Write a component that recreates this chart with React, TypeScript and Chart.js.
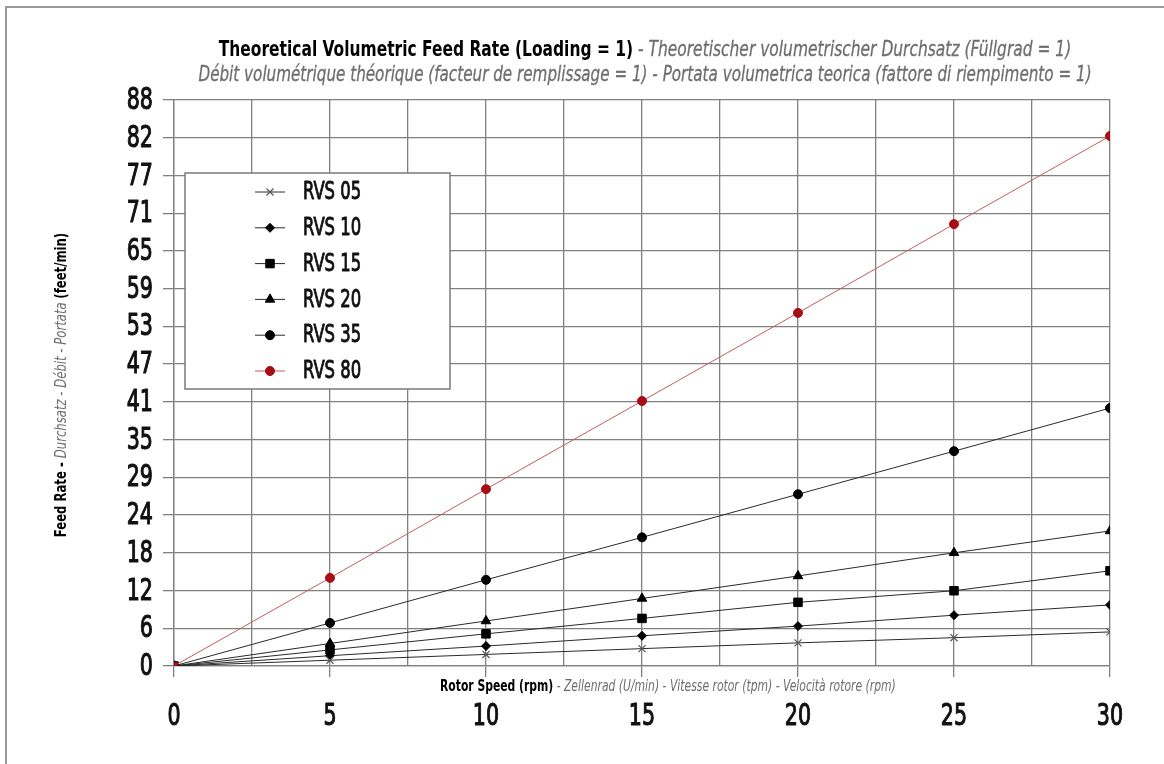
import React, { useEffect, useRef } from 'react';
import { Chart, registerables } from 'chart.js';
import { drawPoint } from 'chart.js/helpers';

Chart.register(...registerables);

const FONT = '"DejaVu Sans Condensed", "Liberation Sans Narrow", "DejaVu Sans", sans-serif';

// ---- data ----
const rotorSpeed = [0, 5, 10, 15, 20, 25, 30];
const rvs05 = [0, 0.9, 1.8, 2.7, 3.6, 4.4, 5.3];
const rvs10 = [0, 1.6, 3.1, 4.7, 6.2, 7.9, 9.5];
const rvs15 = [0, 2.5, 5.0, 7.4, 9.9, 11.7, 14.8];
const rvs20 = [0, 3.5, 7.0, 10.5, 14.0, 17.6, 21.0];
const rvs35 = [0, 6.7, 13.4, 20.0, 26.7, 33.4, 40.1];
const rvs80 = [0, 13.7, 27.5, 41.2, 54.9, 68.7, 82.4];
const seriesNames = ['RVS 05', 'RVS 10', 'RVS 15', 'RVS 20', 'RVS 35', 'RVS 80'];

const yTickLabels = ['0', '6', '12', '18', '24', '29', '35', '41', '47', '53', '59', '65', '71', '77', '82', '88'];
const yMax = 88;
const xMajorTicks = [0, 5, 10, 15, 20, 25, 30];
const xTickLabels = ['0', '5', '10', '15', '20', '25', '30'];
const xGridStep = 2.5;

const titleMain = 'Theoretical Volumetric Feed Rate (Loading = 1)';
const titleDe = ' - Theoretischer volumetrischer Durchsatz (Füllgrad = 1)';
const titleLine2 = 'Débit volumétrique théorique (facteur de remplissage = 1) - Portata volumetrica teorica (fattore di riempimento = 1)';
const xTitleMain = 'Rotor Speed (rpm)';
const xTitleRest = ' - Zellenrad (U/min) - Vitesse rotor (tpm) - Velocità rotore (rpm)';
const yTitleMain = 'Feed Rate - ';
const yTitleRest = 'Durchsatz - Débit - Portata ';
const yTitleUnit = '(feet/min)';

type Seg = { text: string; font: string; color: string; stroke?: number };

function drawSegments(
  ctx: CanvasRenderingContext2D,
  segs: Seg[],
  x: number,
  y: number,
  align: 'center' | 'left' | 'right',
  sx: number,
) {
  let total = 0;
  const widths = segs.map((s) => {
    ctx.font = s.font;
    const w = ctx.measureText(s.text).width;
    total += w;
    return w;
  });
  const scaled = total * sx;
  const start = align === 'center' ? x - scaled / 2 : align === 'right' ? x - scaled : x;
  ctx.save();
  ctx.translate(start, y);
  ctx.scale(sx, 1);
  ctx.textBaseline = 'middle';
  ctx.textAlign = 'left';
  ctx.lineJoin = 'round';
  let cx = 0;
  segs.forEach((s, i) => {
    ctx.font = s.font;
    ctx.fillStyle = s.color;
    ctx.fillText(s.text, cx, 0);
    if (s.stroke) {
      ctx.strokeStyle = s.color;
      ctx.lineWidth = s.stroke;
      ctx.strokeText(s.text, cx, 0);
    }
    cx += widths[i];
  });
  ctx.restore();
}

const GREY_TXT = '#6e6e6e';
const TICK_FONT = `31px ${FONT}`;
const TICK_SX = 0.74;

const chromePlugin = {
  id: 'chrome',
  afterDraw(chart: any) {
    const ctx: CanvasRenderingContext2D = chart.ctx;
    const area = chart.chartArea;
    const xs = chart.scales.x;
    const ys = chart.scales.y;
    ctx.save();
    // frame
    ctx.strokeStyle = '#9a9a9a';
    ctx.lineWidth = 2;
    ctx.beginPath();
    ctx.moveTo(6, 764);
    ctx.lineTo(6, 7);
    ctx.lineTo(1164, 7);
    ctx.stroke();

    const cx = (area.left + area.right) / 2;
    // title
    drawSegments(ctx, [
      { text: titleMain, font: `bold 21.5px ${FONT}`, color: '#000' },
      { text: titleDe, font: `italic 21.5px ${FONT}`, color: GREY_TXT, stroke: 0.3 },
    ], cx + 3, 50, 'center', 0.8);
    drawSegments(ctx, [
      { text: titleLine2, font: `italic 21.5px ${FONT}`, color: GREY_TXT, stroke: 0.3 },
    ], cx + 3, 75, 'center', 0.785);

    // tick labels (positioned by the chart scales)
    xMajorTicks.forEach((v, i) => {
      drawSegments(ctx, [{ text: xTickLabels[i], font: TICK_FONT, color: '#111', stroke: 1.1 }], xs.getPixelForValue(v), area.bottom + 51, 'center', TICK_SX);
    });
    yTickLabels.forEach((lab, i) => {
      const v = (i * yMax) / (yTickLabels.length - 1);
      drawSegments(ctx, [{ text: lab, font: TICK_FONT, color: '#111', stroke: 1.1 }], area.left - 21, ys.getPixelForValue(v) + 1, 'right', TICK_SX);
    });

    // x title
    drawSegments(ctx, [
      { text: xTitleMain, font: `bold 16px ${FONT}`, color: '#000' },
      { text: xTitleRest, font: `italic 16px ${FONT}`, color: GREY_TXT },
    ], 440, area.bottom + 21, 'left', 0.75);

    // y title
    ctx.save();
    ctx.translate(62, (area.top + area.bottom) / 2 + 2);
    ctx.rotate(-Math.PI / 2);
    drawSegments(ctx, [
      { text: yTitleMain, font: `bold 16px ${FONT}`, color: '#000' },
      { text: yTitleRest, font: `italic 16px ${FONT}`, color: GREY_TXT },
      { text: yTitleUnit, font: `bold 16px ${FONT}`, color: '#000' },
    ], 0, 0, 'center', 0.81);
    ctx.restore();

    // legend
    const lx = 185, ly = 173, lw = 265, lh = 216;
    ctx.fillStyle = '#fff';
    ctx.fillRect(lx, ly, lw, lh);
    ctx.strokeStyle = '#7a7a7a';
    ctx.lineWidth = 1.5;
    ctx.strokeRect(lx, ly, lw, lh);
    chart.data.datasets.forEach((ds: any, i: number) => {
      const y = 192 + i * 35.8;
      ctx.strokeStyle = ds.borderColor;
      ctx.lineWidth = 1;
      ctx.beginPath();
      ctx.moveTo(255, y);
      ctx.lineTo(285, y);
      ctx.stroke();
      ctx.fillStyle = ds.pointBackgroundColor;
      ctx.strokeStyle = ds.pointBorderColor;
      ctx.lineWidth = ds.pointBorderWidth;
      const style = typeof ds.pointStyle === 'function' ? 'circle' : ds.pointStyle;
      drawPoint(ctx, { pointStyle: style, radius: ds.pointRadius, rotation: 0, borderWidth: ds.pointBorderWidth }, 270, y);
      drawSegments(ctx, [{ text: ds.label, font: `24px ${FONT}`, color: '#111', stroke: 0.9 }], 303, y + 1, 'left', 0.76);
    });
    ctx.restore();
  },
};

function mk(label: string, values: number[], opts: any) {
  return {
    label,
    data: rotorSpeed.map((x, i) => ({ x, y: values[i] })),
    borderColor: '#2a2a2a',
    borderWidth: 1,
    pointBackgroundColor: '#000',
    pointBorderColor: '#000',
    pointBorderWidth: 1,
    pointRadius: 4.5,
    order: 1,
    ...opts,
  };
}

export default function App() {
  const ref = useRef<HTMLCanvasElement | null>(null);
  useEffect(() => {
    document.body.style.margin = '0';
    const canvas = ref.current!;
    const chart = new Chart(canvas, {
      type: 'line',
      data: {
        datasets: [
          mk(seriesNames[0], rvs05, { pointStyle: 'crossRot', pointRadius: 5, pointBorderColor: '#555', pointBackgroundColor: '#555', pointBorderWidth: 1.2 }),
          mk(seriesNames[1], rvs10, { pointStyle: 'rectRot', pointRadius: 4.5 }),
          mk(seriesNames[2], rvs15, { pointStyle: 'rect', pointRadius: 6 }),
          mk(seriesNames[3], rvs20, { pointStyle: 'triangle', pointRadius: 5.5 }),
          mk(seriesNames[4], rvs35, { pointStyle: 'circle', pointRadius: 4.5 }),
          mk(seriesNames[5], rvs80, {
            pointStyle: (c: any) => (c.dataIndex === 0 ? 'rect' : 'circle'),
            pointRadius: 4.5,
            borderColor: '#bf5e5e',
            pointBackgroundColor: '#a80c14',
            pointBorderColor: '#a80c14',
            order: 0,
          }),
        ] as any,
      },
      options: {
        animation: false,
        responsive: false,
        maintainAspectRatio: false,
        layout: { padding: { top: 100, right: 54, bottom: 0, left: 0 } },
        plugins: {
          legend: { display: false },
          title: { display: false },
          tooltip: { enabled: false },
        },
        scales: {
          x: {
            type: 'linear',
            min: 0,
            max: 30,
            afterBuildTicks: (axis: any) => {
              const t = [];
              for (let v = 0; v <= 30 + 1e-9; v += xGridStep) t.push({ value: v });
              axis.ticks = t;
            },
            afterFit: (axis: any) => {
              axis.height = 98;
            },
            ticks: { display: false, autoSkip: false, maxRotation: 0 },
            grid: {
              color: '#808080',
              lineWidth: 1.3,
              tickLength: 11,
              tickColor: (c: any) => (c.tick && xMajorTicks.includes(c.tick.value) ? '#808080' : 'rgba(0,0,0,0)'),
            },
            border: { color: '#808080', width: 1.3 },
          },
          y: {
            type: 'linear',
            min: 0,
            max: yMax,
            afterBuildTicks: (axis: any) => {
              axis.ticks = yTickLabels.map((_, i) => ({ value: (i * yMax) / (yTickLabels.length - 1) }));
            },
            afterFit: (axis: any) => {
              axis.width = 174;
            },
            ticks: { display: false, autoSkip: false },
            grid: {
              color: '#808080',
              lineWidth: 1.3,
              tickLength: 11,
            },
            border: { color: '#808080', width: 1.3 },
          },
        },
      } as any,
      plugins: [chromePlugin],
    });
    return () => chart.destroy();
  }, []);
  return (
    <div style={{ width: 1164, height: 764, background: '#fff' }}>
      <canvas ref={ref} width={1164} height={764} style={{ display: 'block', width: 1164, height: 764 }} />
    </div>
  );
}
